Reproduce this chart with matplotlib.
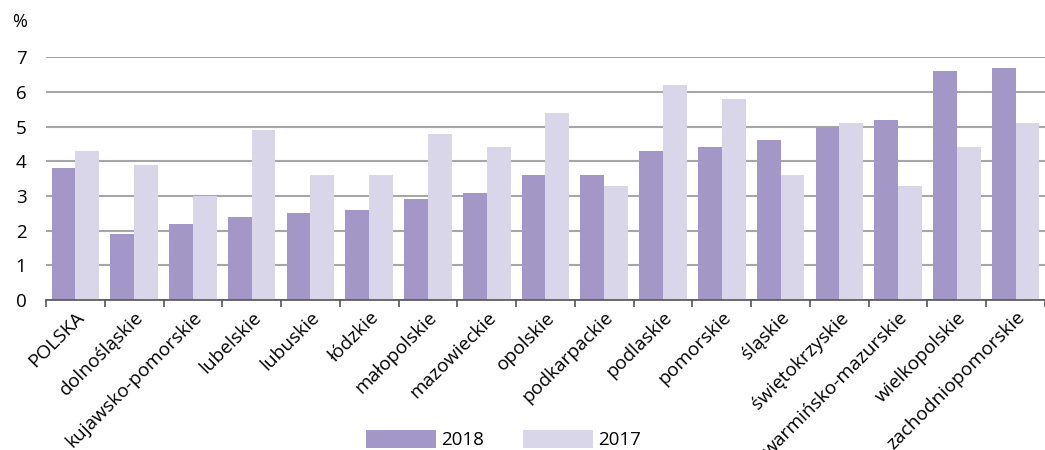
import numpy as np
import matplotlib.pyplot as plt

# regions and unemployment-like rates
regions = ["POLSKA", "dolnośląskie", "kujawsko-pomorskie", "lubelskie", "lubuskie",
           "łódzkie", "małopolskie", "mazowieckie", "opolskie", "podkarpackie",
           "podlaskie", "pomorskie", "śląskie", "świętokrzyskie",
           "warmińsko-mazurskie", "wielkopolskie", "zachodniopomorskie"]
values_2018 = [3.8, 1.9, 2.2, 2.4, 2.5, 2.6, 2.9, 3.1, 3.6, 3.6,
               4.3, 4.4, 4.6, 5.0, 5.2, 6.6, 6.7]
values_2017 = [4.3, 3.9, 3.0, 4.9, 3.6, 3.6, 4.8, 4.4, 5.4, 3.3,
               6.2, 5.8, 3.6, 5.1, 3.3, 4.4, 5.1]
years = ["2018", "2017"]

plt.rcParams['font.family'] = ['Open Sans', 'DejaVu Sans']

fig = plt.figure(figsize=(10.45, 4.5), dpi=100)
ax = fig.add_axes([0.044, 0.333, 0.956, 0.54])

x = np.arange(len(regions))
w = 0.405
c18 = "#a397c8"
c17 = "#d9d6ea"
ax.bar(x - w / 2, values_2018, w, color=c18, label=years[0], zorder=2)
ax.bar(x + w / 2, values_2017, w, color=c17, label=years[1], zorder=2)

ax.set_xlim(-0.5, len(regions) - 0.5)
ax.set_ylim(0, 7)
ax.set_yticks(range(0, 8))
ax.yaxis.grid(True, color="#a6a6a6", linewidth=1.5, zorder=0)
ax.set_axisbelow(True)

for s in ["top", "right", "left"]:
    ax.spines[s].set_visible(False)
ax.spines["bottom"].set_color("#555555")
ax.spines["bottom"].set_linewidth(1.2)

# tick marks sit between categories, labels at centres
ax.set_xticks(np.arange(-0.5, len(regions)), minor=False)
ax.set_xticklabels([])
ax.set_xticks(x, minor=True)
ax.set_xticklabels(regions, minor=True, rotation=45, ha="right",
                   rotation_mode="anchor", fontsize=13.8)
ax.tick_params(axis="x", which="major", length=5, color="#555555", width=1.2)
ax.tick_params(axis="x", which="minor", length=0, pad=6)
ax.tick_params(axis="y", length=0, labelsize=13.5, pad=14)

fig.text(0.012, 0.94, "%", fontsize=13)

fig.legend(loc="lower center", bbox_to_anchor=(0.482, -0.035), ncol=2,
           frameon=False, fontsize=13.5, handlelength=3.7, handleheight=1.1,
           handletextpad=0.3, columnspacing=2.1)

fig.savefig("out.png", dpi=100)
